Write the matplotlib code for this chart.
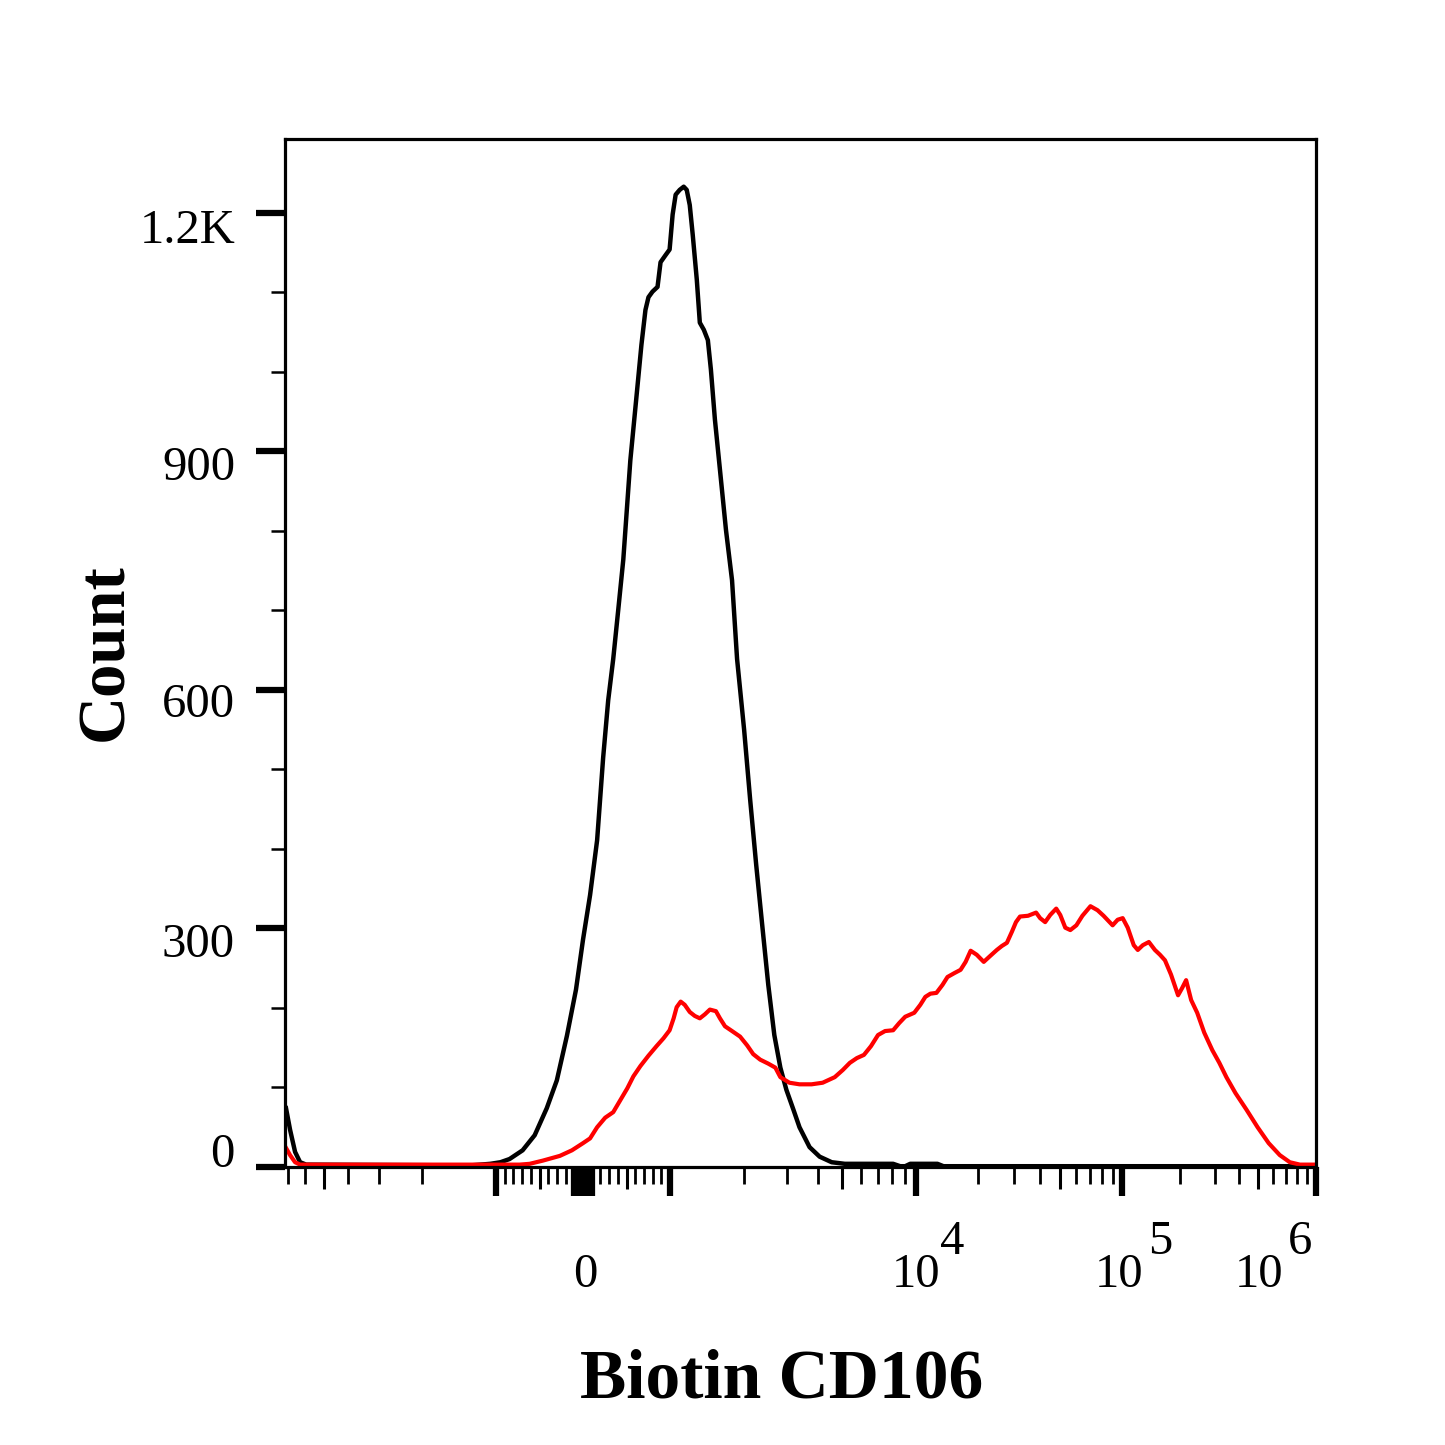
import numpy as np
import matplotlib.pyplot as plt
from matplotlib.transforms import offset_copy

plt.rcParams['font.family'] = ['Liberation Serif', 'DejaVu Serif']

# histogram: x in display channels (0-1024), y in counts
black_channel = [1, 5, 10, 15, 21, 184, 204, 214, 223, 236, 248, 260, 270, 280, 289,
                 296, 303, 310, 316, 321, 326, 331, 336, 343, 350, 354, 358, 361, 365,
                 370, 373, 378, 382, 385, 388, 392, 396, 399, 402, 405, 409, 412, 416,
                 420, 423, 427, 432, 438, 444, 449, 456, 462, 468, 474, 480, 486, 492,
                 498, 505, 511, 521, 531, 543, 556, 604, 611, 616, 621, 648, 654, 1024]
black_count = [74, 47, 19, 6, 3, 2, 4, 6, 10, 21, 40, 74, 109, 165, 223,
               286, 342, 411, 515, 587, 639, 701, 764, 889, 981, 1034, 1078, 1094, 1101,
               1107, 1138, 1147, 1154, 1198, 1223, 1229, 1233, 1229, 1210, 1172, 1116, 1062, 1053,
               1040, 1003, 940, 877, 801, 738, 639, 550, 462, 380, 304, 229, 166, 125,
               97, 72, 50, 25, 13, 6, 4, 4, 1, 1, 4, 4, 1, 1]

red_channel = [1, 5, 10, 15, 233, 243, 256, 273, 285, 296, 303, 310, 318, 326, 333,
               340, 346, 353, 361, 369, 376, 382, 386, 389, 393, 397, 402, 407, 412,
               417, 422, 428, 432, 437, 444, 452, 459, 465, 472, 480, 487, 492, 501,
               511, 523, 534, 546, 554, 561, 568, 575, 582, 589, 596, 604, 610, 616,
               625, 631, 636, 641, 647, 653, 658, 665, 671, 676, 681, 687, 694, 700,
               707, 712, 717, 722, 726, 730, 738, 746, 750, 755, 760, 766, 770, 775,
               780, 786, 792, 800, 807, 813, 822, 827, 832, 837, 843, 847, 852, 858,
               864, 869, 874, 880, 887, 891, 895, 900, 906, 913, 921, 928, 935, 944,
               955, 966, 977, 988, 998, 1008, 1024]
red_count = [24, 15, 6, 3, 3, 4, 8, 14, 21, 30, 36, 50, 62, 69, 84,
             99, 114, 127, 140, 152, 162, 172, 187, 201, 208, 204, 195, 190, 187,
             192, 198, 196, 187, 177, 171, 164, 153, 142, 135, 130, 125, 113, 106,
             104, 104, 106, 113, 122, 131, 137, 141, 152, 166, 171, 172, 181, 189,
             194, 204, 214, 218, 219, 229, 239, 244, 248, 258, 272, 267, 258, 265,
             273, 278, 282, 296, 308, 315, 316, 320, 313, 308, 317, 325, 317, 301,
             298, 304, 316, 328, 323, 316, 304, 311, 313, 301, 279, 273, 279, 283,
             273, 267, 260, 242, 216, 225, 235, 210, 194, 169, 147, 131, 113, 93,
             72, 50, 30, 15, 6, 3, 3]

y_ticks = [0, 300, 600, 900, 1200]
y_tick_labels = ["0", "300", "600", "900", "1.2K"]
y_minor = [100, 200, 400, 500, 700, 800, 1000, 1100]

x_label_values = [0, 1e4, 1e5, 1e6]
x_label_bases = ["0", "10", "10", "10"]
x_label_exps = ["", "4", "5", "6"]

# biexponential display: linear within +-1000, log decades outside
ZERO_CH = 296.0
LIN_CH = 86.4
DECADE_CH = [244.3, 204.6, 192.7]


def to_channel(values):
    v = np.asarray(values, dtype=float)
    a = np.abs(v)
    edges = np.concatenate([[0.0], np.cumsum(DECADE_CH)])
    dec = np.log10(np.maximum(a, 1000.0)) - 3.0
    ch = np.where(a <= 1000, a / 1000.0 * LIN_CH, LIN_CH + np.interp(dec, [0, 1, 2, 3], edges))
    return ZERO_CH + np.sign(v) * ch


block = [s * k for s in (-1, 1) for k in range(10, 101, 10)]
major_vals = [-1000, 0, 1000, 1e4, 1e5, 1e6] + block
medium_vals = [-5000, -500, 500, 5000, 5e4, 5e5]
minor_vals = []
for s in (-1, 1):
    for k in (2, 3, 4, 6, 7, 8, 9):
        minor_vals += [s * k * 100, s * k * 1000]
for k in (2, 3, 4, 6, 7, 8, 9):
    minor_vals += [k * 1e4, k * 1e5]

fig = plt.figure(figsize=(14.45, 14.45), dpi=100)
ax = fig.add_axes([285 / 1445, 1 - 1167 / 1445, 1031 / 1445, 1028 / 1445])

ax.plot(black_channel, black_count, color='black', lw=3.2, solid_joinstyle='round')
ax.plot(red_channel, red_count, color='#ff0000', lw=3.0, solid_joinstyle='round')

for sp in ax.spines.values():
    sp.set_linewidth(2.3)

ax.set_xticks(to_channel(major_vals))
ax.set_xticks(to_channel(minor_vals), minor=True)
ax.set_yticks(y_ticks)
ax.set_yticks(y_minor, minor=True)
# set limits after the ticks, which would otherwise widen the view
ax.set_xlim(0, 1024)
ax.set_ylim(0, 1293)
ax.tick_params(which='major', length=21, width=4.5, direction='out',
               labelbottom=False, labelleft=False)
ax.tick_params(axis='x', which='minor', length=12, width=2, direction='out')
ax.tick_params(axis='y', which='minor', length=10, width=1.8, direction='out')

sec = ax.secondary_xaxis('bottom')
sec.set_xticks(to_channel(medium_vals))
sec.tick_params(length=16, width=2.2, direction='out', labelbottom=False)
sec.spines['bottom'].set_visible(False)
ax.set_xlim(0, 1024)

# tick labels
y_label_dy = [0, -29, -27, -29, -30]
ytrans = ax.get_yaxis_transform()
for val, lab, dy in zip(y_ticks, y_tick_labels, y_label_dy):
    ax.text(0, val, lab, ha='right', va='baseline', fontsize=35,
            transform=offset_copy(ytrans, fig=fig, x=-50, y=dy, units='dots'))

base_dx = [14, 24, 21, -33]
exp_dx = [0, 24, 26, -28]
xtrans = ax.get_xaxis_transform()
for val, base, exp, bdx, edx in zip(x_label_values, x_label_bases, x_label_exps, base_dx, exp_dx):
    pos = float(to_channel(val))
    ax.text(pos, 0, base, ha='right', va='baseline', fontsize=35,
            transform=offset_copy(xtrans, fig=fig, x=bdx, y=-120, units='dots'))
    if exp:
        ax.text(pos, 0, exp, ha='left', va='baseline', fontsize=35,
                transform=offset_copy(xtrans, fig=fig, x=edx, y=-87, units='dots'))

fig.text(782 / 1445, 1 - 1397 / 1445, "Biotin CD106", ha='center', va='baseline',
         fontsize=50, fontweight='bold')
fig.text(106 / 1445, 1 - 652 / 1445, "Count", rotation=90, ha='center', va='center',
         fontsize=48, fontweight='bold')

fig.savefig('out.png', dpi=100)
